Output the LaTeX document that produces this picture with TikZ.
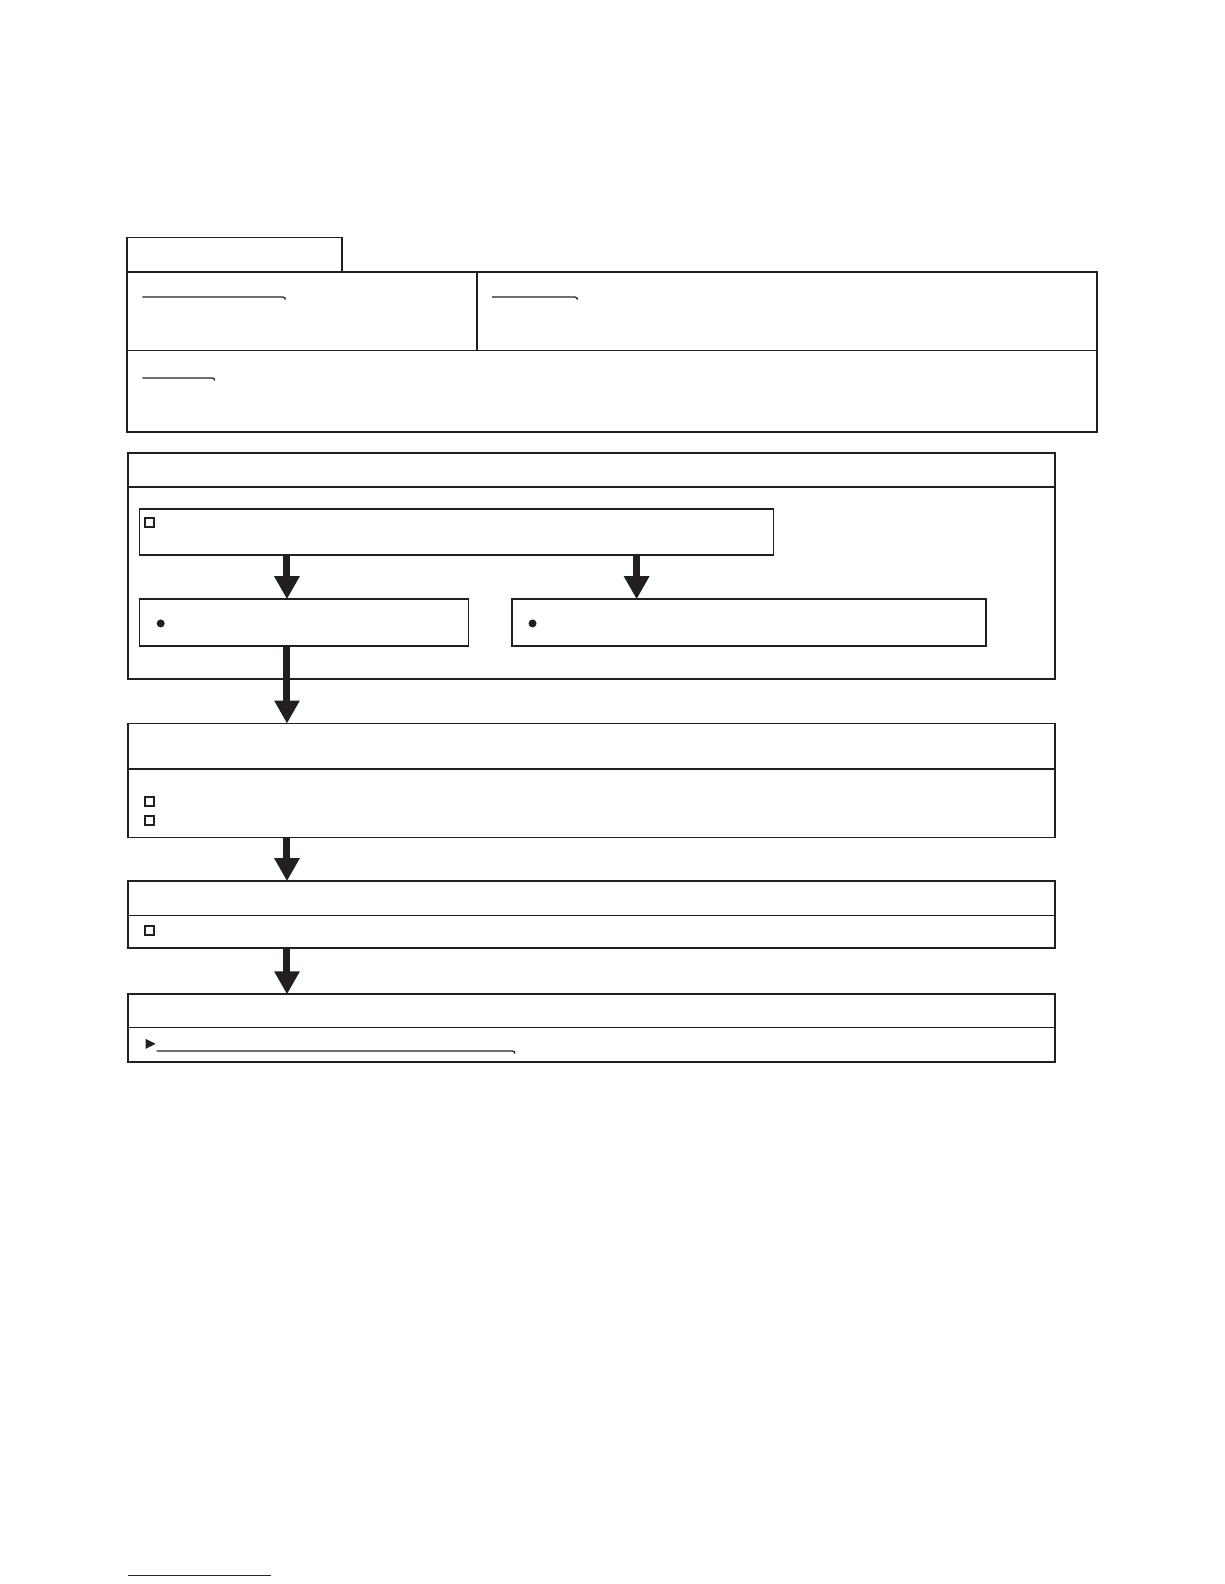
\documentclass[tikz,border=0pt]{standalone}
\usetikzlibrary{arrows.meta,positioning,calc}
\definecolor{ink}{HTML}{231F20}
\definecolor{linkblue}{HTML}{1A1A9C}
\tikzset{
  frame/.style={draw=ink, line width=1.8pt, inner sep=0pt, outer sep=0pt, anchor=north west},
  bigarrow/.style={draw=ink, line width=7pt, -{Triangle[width=24pt,length=23pt]}, shorten <=0pt},
  cbox/.style={draw=ink, line width=1.9pt, minimum size=9pt, inner sep=0pt},
  dotmark/.style={fill=ink, circle, minimum size=8pt, inner sep=0pt},
  uline/.style={draw=ink, line width=1.3pt},
  divider/.style={draw=ink, line width=1.6pt}
}
\begin{document}
\begin{tikzpicture}[x=1.0105pt,y=-1.0105pt]
\useasboundingbox (0pt,0pt) rectangle (1224pt,-1584pt);
% top block
\node[frame, minimum width=215pt, minimum height=34pt] (tab) at (126,235) {};
\node[frame, minimum width=970pt, minimum height=160pt] (top) at (126,269) {};
\draw[divider] (472,269) -- (472,347);
\draw[divider] (126,347) -- (1086,347);
\draw[uline] (141,294) -- (280,294) to[out=0,in=90] (282.5,296.5);
\draw[uline] (487,294) -- (569,294) to[out=0,in=90] (571.5,296.5);
\draw[uline] (141,374) -- (210,374) to[out=0,in=90] (212.5,376.5);
% section 1
\node[frame, minimum width=927pt, minimum height=226pt] (s1) at (127,448) {};
\draw[divider] (127,482) -- (1044,482);
\node[frame, minimum width=634pt, minimum height=45.5pt] (A) at (138,504) {};
\node[cbox] (cA) at (148,517) {};
\node[frame, minimum width=329pt, minimum height=46.5pt] (B) at (138,593) {};
\node[dotmark] (dB) at (159,617) {};
\node[frame, minimum width=474pt, minimum height=46.5pt] (C) at (507,593) {};
\node[dotmark] (dC) at (527,617) {};
% section 2
\node[frame, minimum width=927pt, minimum height=114pt] (s2) at (127,716) {};
\draw[divider] (127,761) -- (1044,761);
\node[cbox] (c21) at (148,793) {};
\node[cbox] (c22) at (148,812) {};
% section 3
\node[frame, minimum width=927pt, minimum height=66.7pt] (s3) at (127,872) {};
\draw[divider] (127,906) -- (1044,906);
\node[cbox] (c31) at (148,921) {};
% section 4
\node[frame, minimum width=927pt, minimum height=67.7pt] (s4) at (127,984) {};
\draw[divider] (127,1017) -- (1044,1017);
\fill[ink] (144,1028) -- (154,1033) -- (144,1038) -- cycle;
\draw[uline] (155,1040) -- (507,1040) to[out=0,in=90] (509.5,1042.5);
% arrows
\coordinate (ax) at (284,0);
\coordinate (bx) at (630,0);
\draw[bigarrow] (A.south -| ax) -- (B.north -| ax);
\draw[bigarrow] (A.south -| bx) -- (C.north -| bx);
\draw[bigarrow] (B.south -| ax) -- (s2.north -| ax);
\draw[bigarrow] (s2.south -| ax) -- (s3.north -| ax);
\draw[bigarrow] (s3.south -| ax) -- (s4.north -| ax);
% bottom blue rule
\coordinate (bl1) at (127,1559);
\coordinate (bl2) at (268,1559);
\draw[linkblue, line width=1.2pt] (bl1) -- (bl2);
\end{tikzpicture}
\end{document}
